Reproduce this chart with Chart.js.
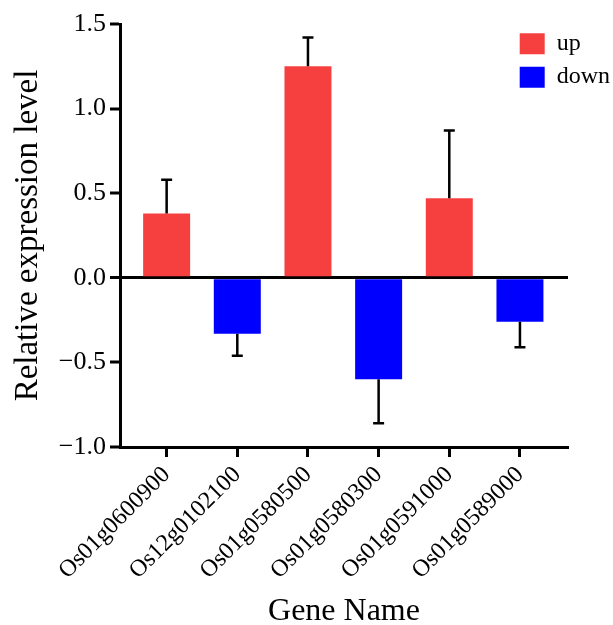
<!DOCTYPE html>
<html>
<head>
<meta charset="utf-8">
<script src="https://cdn.jsdelivr.net/npm/chart.js@4/dist/chart.umd.min.js"></script>
<style>
  html, body { margin: 0; padding: 0; background: #fff; }
  #c { display: block; }
</style>
</head>
<body>
<canvas id="c" width="613" height="625"></canvas>
<script>
// ---- data ----
const genes = ['Os01g0600900', 'Os12g0102100', 'Os01g0580500', 'Os01g0580300', 'Os01g0591000', 'Os01g0589000'];
const expression = [0.38, -0.33, 1.25, -0.60, 0.47, -0.26];
const errorBars = [0.20, 0.13, 0.17, 0.26, 0.40, 0.15];
const seriesNames = ['up', 'down'];
const yTickValues = [-1.0, -0.5, 0.0, 0.5, 1.0, 1.5];

const upColor = 'rgb(246,64,64)';
const downColor = 'rgb(0,0,255)';
const FONT = "'Liberation Serif', 'Times New Roman', serif";

Chart.defaults.font.family = FONT;
Chart.defaults.color = '#000';

const upData = [];
const downData = [];
genes.forEach((g, i) => {
  if (expression[i] >= 0) upData.push({ x: i, y: expression[i] });
  else downData.push({ x: i, y: expression[i] });
});

const errorBarPlugin = {
  id: 'errorBars',
  afterDatasetsDraw(chart) {
    const xs = chart.scales.x, ys = chart.scales.y, ctx = chart.ctx;
    ctx.save();
    ctx.strokeStyle = '#000';
    ctx.lineWidth = 2.5;
    ctx.lineCap = 'butt';
    expression.forEach((v, i) => {
      const sign = v >= 0 ? 1 : -1;
      const px = xs.getPixelForValue(i);
      const p0 = ys.getPixelForValue(v);
      const p1 = ys.getPixelForValue(v + sign * errorBars[i]);
      ctx.beginPath();
      ctx.moveTo(px, p0);
      ctx.lineTo(px, p1);
      ctx.moveTo(px - 5.5, p1);
      ctx.lineTo(px + 5.5, p1);
      ctx.stroke();
    });
    ctx.restore();
  }
};

const legendPlacer = {
  id: 'legendPlacer',
  afterLayout(chart) {
    const l = chart.legend;
    if (!l) return;
    const h = l.height;
    l.left = 510.3;
    l.top = 22.4;
    l.right = chart.width;
    l.bottom = l.top + Math.max(h, 90);
    l.width = l.right - l.left;
    l.height = l.bottom - l.top;
  }
};

new Chart(document.getElementById('c'), {
  type: 'bar',
  data: {
    datasets: [
      { label: seriesNames[0], data: upData, backgroundColor: upColor, borderWidth: 0, grouped: false },
      { label: seriesNames[1], data: downData, backgroundColor: downColor, borderWidth: 0, grouped: false }
    ]
  },
  options: {
    responsive: false,
    devicePixelRatio: 1,
    animation: false,
    layout: { padding: { top: 24, right: 45, bottom: 0, left: 0 } },
    datasets: { bar: { categoryPercentage: 1.0, barPercentage: 0.665 } },
    plugins: {
      tooltip: { enabled: false },
      legend: {
        position: 'chartArea',
        align: 'start',
        labels: {
          boxWidth: 25,
          boxHeight: 21,
          padding: 9.4,
          color: '#000',
          font: { family: FONT, size: 24 }
        }
      }
    },
    scales: {
      x: {
        type: 'linear',
        min: -0.66,
        max: 5.68,
        offset: false,
        afterFit(s) { s.height = 178; },
        border: { display: true, color: '#000', width: 3 },
        grid: { offset: false, drawOnChartArea: false, drawTicks: true, tickLength: 10, tickWidth: 3, tickColor: '#000' },
        ticks: {
          stepSize: 1,
          includeBounds: false,
          autoSkip: false,
          minRotation: 45,
          maxRotation: 45,
          padding: 4,
          color: '#000',
          font: { family: FONT, size: 24 },
          callback: (v) => (Number.isInteger(v) && genes[v] !== undefined) ? genes[v] : ''
        },
        title: {
          display: true,
          text: 'Gene Name',
          color: '#000',
          font: { family: FONT, size: 32, lineHeight: 1 },
          padding: { top: 0, bottom: -3 }
        }
      },
      y: {
        min: yTickValues[0],
        max: yTickValues[yTickValues.length - 1],
        z: 1,
        afterFit(s) { s.width = 120; },
        afterBuildTicks(s) { s.ticks = yTickValues.map(v => ({ value: v })); },
        border: { display: true, color: '#000', width: 3 },
        grid: {
          drawOnChartArea: true,
          drawTicks: true,
          tickLength: 10,
          tickWidth: 3,
          tickColor: '#000',
          color: (c) => (c.tick && c.tick.value === 0) ? '#000' : 'rgba(0,0,0,0)',
          lineWidth: (c) => (c.tick && c.tick.value === 0) ? 3 : 0
        },
        ticks: {
          padding: 4,
          color: '#000',
          font: { family: FONT, size: 26 },
          callback: (v) => (v < 0 ? '\u2212' : '') + Math.abs(v).toFixed(1)
        },
        title: {
          display: true,
          text: 'Relative expression level',
          color: '#000',
          font: { family: FONT, size: 33, lineHeight: 1 },
          padding: { top: 12, bottom: 0 }
        }
      }
    }
  },
  plugins: [errorBarPlugin, legendPlacer]
});
</script>
</body>
</html>
